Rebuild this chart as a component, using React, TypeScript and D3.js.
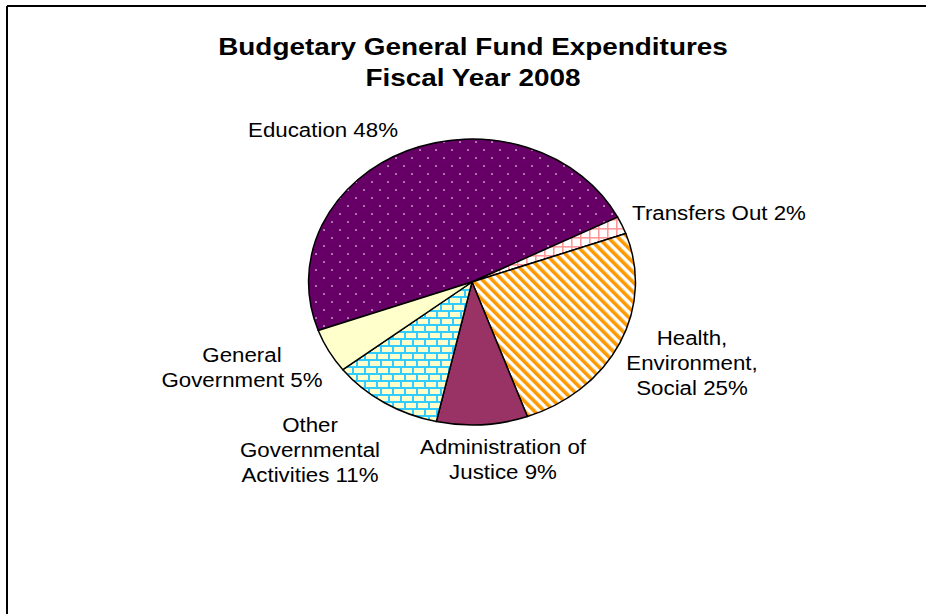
import React from "react";
import * as d3 from "d3";

// chart data
const categories = [
  "Education",
  "Transfers Out",
  "Health, Environment, Social",
  "Administration of Justice",
  "Other Governmental Activities",
  "General Government",
];
const shares = [48, 2, 25, 9, 11, 5];
const labelLines = [
  ["Education 48%"],
  ["Transfers Out 2%"],
  ["Health,", "Environment,", "Social 25%"],
  ["Administration of", "Justice 9%"],
  ["Other", "Governmental", "Activities 11%"],
  ["General", "Government 5%"],
];
const titleLines = ["Budgetary General Fund Expenditures", "Fiscal Year 2008"];

// layout
const WIDTH = 926;
const HEIGHT = 614;
const SX = 1.143; // the picture is stretched horizontally
const CX = 472;
const CY = 282;
const R = 143;
const START = (-109.8 * Math.PI) / 180;
const FONT = "'Liberation Sans', Arial, sans-serif";
const LINE_H = 25;

// label anchor (centre x, first baseline y), one per slice
const LABEL_POS = [
  [323, 137],
  [719, 220],
  [692, 345],
  [503, 454],
  [310, 432],
  [242, 362],
];

const FILLS = [
  "url(#dots)",
  "url(#grid)",
  "url(#stripes)",
  "#993366",
  "url(#bricks)",
  "#ffffcc",
];

const App: React.FC = () => {
  const pie = d3
    .pie<number>()
    .sort(null)
    .value((d) => d)
    .startAngle(START)
    .endAngle(START + 2 * Math.PI);
  const arcs = pie(shares);
  const arc = d3.arc<d3.PieArcDatum<number>>().innerRadius(0).outerRadius(R);
  const unscale = `scale(${1 / SX},1)`;

  return (
    <div style={{ position: "absolute", left: 0, top: 0 }}>
      <svg width={WIDTH} height={HEIGHT} style={{ display: "block", background: "#fff" }}>
        <defs>
          <pattern id="dots" patternUnits="userSpaceOnUse" width={16} height={16} patternTransform={unscale}>
            <rect width={16} height={16} fill="#660066" />
            <rect x={3.3} y={3.3} width={1.5} height={1.5} fill="#e8cfe8" />
            <rect x={11.3} y={11.3} width={1.5} height={1.5} fill="#e8cfe8" />
          </pattern>
          <pattern id="grid" patternUnits="userSpaceOnUse" width={9} height={9} patternTransform={unscale}>
            <rect width={9} height={9} fill="#ffffff" />
            <rect x={0} y={0} width={9} height={1.6} fill="#ff9999" />
            <rect x={0} y={0} width={1.6} height={9} fill="#ff9999" />
          </pattern>
          <pattern id="stripes" patternUnits="userSpaceOnUse" width={7} height={7} patternTransform={`${unscale} rotate(-45)`}>
            <rect width={7} height={7} fill="#ffffff" />
            <rect x={0} y={0} width={3.6} height={7} fill="#ff9900" />
          </pattern>
          <pattern id="bricks" patternUnits="userSpaceOnUse" width={12} height={14} patternTransform={unscale}>
            <rect width={12} height={14} fill="#33ccff" />
            <rect x={2} y={2} width={10} height={5} fill="#ffffcc" />
            <rect x={0} y={9} width={4} height={5} fill="#ffffcc" />
            <rect x={6} y={9} width={6} height={5} fill="#ffffcc" />
          </pattern>
        </defs>

        {/* frame */}
        <line x1={7} y1={6} x2={WIDTH} y2={6} stroke="#000" strokeWidth={2} />
        <line x1={7} y1={6} x2={7} y2={HEIGHT} stroke="#000" strokeWidth={2} />

        {/* title */}
        {titleLines.map((t, i) => (
          <text
            key={t}
            transform={`translate(${473},${55 + i * 31}) scale(${SX},1)`}
            textAnchor="middle"
            fontFamily={FONT}
            fontWeight="bold"
            fontSize={24.4}
            fill="#000"
          >
            {t}
          </text>
        ))}

        {/* pie */}
        <g transform={`translate(${CX},${CY}) scale(${SX},1)`}>
          {arcs.map((a, i) => (
            <path
              key={categories[i]}
              d={arc(a) || ""}
              fill={FILLS[i]}
              stroke="#000"
              strokeWidth={1.5}
              strokeLinejoin="round"
              vectorEffect="non-scaling-stroke"
            />
          ))}
        </g>

        {/* data labels */}
        {labelLines.map((lines, i) =>
          lines.map((line, j) => (
            <text
              key={categories[i] + j}
              transform={`translate(${LABEL_POS[i][0]},${LABEL_POS[i][1] + j * LINE_H}) scale(${SX},1)`}
              textAnchor="middle"
              fontFamily={FONT}
              fontSize={19.5}
              fill="#000"
            >
              {line}
            </text>
          ))
        )}
      </svg>
    </div>
  );
};

export default App;
